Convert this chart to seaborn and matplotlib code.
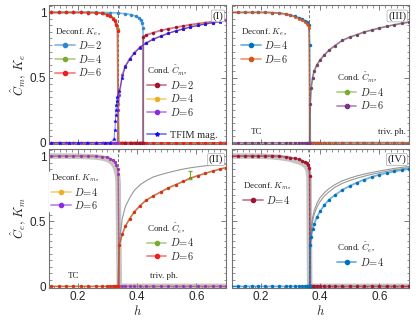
import numpy as np
import pandas as pd
import seaborn as sns
import matplotlib.pyplot as plt
from matplotlib.lines import Line2D
from matplotlib.colors import to_rgba
from matplotlib.ticker import MultipleLocator, FixedLocator, FixedFormatter

sns.set_theme(style="ticks", context="paper")
plt.rcParams["font.family"] = ["Liberation Sans", "DejaVu Sans"]
plt.rcParams["mathtext.fontset"] = "cm"

# ---- data: panels (I) and (II), transition near h = 0.336 ----
h_a = [0.11, 0.135, 0.16, 0.185, 0.21, 0.235, 0.26, 0.28, 0.3, 0.31, 0.32, 0.325,
       0.33, 0.334, 0.336, 0.34, 0.35, 0.36, 0.375, 0.39, 0.41, 0.43, 0.455, 0.48,
       0.505, 0.53, 0.555, 0.58, 0.605, 0.63, 0.655, 0.68, 0.7]
ke_I_d4 = [1, 1, 1, 1, 1, 0.999, 0.998, 0.995, 0.985, 0.975, 0.955, 0.94,
           0.91, 0.87, 0.3, 0, 0, 0, 0, 0, 0, 0, 0, 0, 0, 0, 0, 0, 0, 0, 0, 0, 0]
ke_I_d6 = [1, 1, 1, 1, 1, 0.999, 0.998, 0.994, 0.983, 0.972, 0.952, 0.935,
           0.9, 0.86, 0, 0, 0, 0, 0, 0, 0, 0, 0, 0, 0, 0, 0, 0, 0, 0, 0, 0, 0]
cm_I_d46 = [0, 0, 0, 0, 0, 0, 0, 0, 0, 0, 0, 0, 0, 0, 0.25, 0.37, 0.52, 0.59,
            0.645, 0.69, 0.735, 0.765, 0.795, 0.818, 0.84, 0.858, 0.873, 0.889,
            0.9, 0.912, 0.922, 0.932, 0.94]
km_II_d46 = [1, 1, 1, 1, 1, 0.999, 0.998, 0.995, 0.99, 0.98, 0.967, 0.955,
             0.93, 0.9, 0.86, 0, 0, 0, 0, 0, 0, 0, 0, 0, 0, 0, 0, 0, 0, 0, 0, 0, 0]
ce_II_d46 = [0, 0, 0, 0, 0, 0, 0, 0, 0, 0, 0, 0, 0, 0, 0, 0.32, 0.4, 0.46,
             0.52, 0.57, 0.62, 0.66, 0.695, 0.725, 0.755, 0.78, 0.805, 0.83,
             0.85, 0.867, 0.885, 0.9, 0.912]
ref_II_thin = [None] * 15 + [0.35, 0.52, 0.61, 0.68, 0.735, 0.78, 0.81, 0.84,
                             0.858, 0.873, 0.887, 0.9, 0.91, 0.918, 0.925, 0.93,
                             0.934, 0.937]
ref_II_thick = [1, 1, 1, 0.999, 0.998, 0.996, 0.993, 0.987, 0.975, 0.962, 0.94,
                0.925, 0.89, 0.85, 0.8, 0.0, 0, 0, 0, 0, 0, 0, 0, 0, 0, 0, 0, 0,
                0, 0, 0, 0, 0]
err_h = [0.58]
err_y = [0.855]
err_v = [0.032]

# D=2 in panel (I), transition near h = 0.42
h_d2 = [0.11, 0.135, 0.16, 0.185, 0.21, 0.235, 0.26, 0.285, 0.31, 0.335, 0.36,
        0.38, 0.395, 0.405, 0.412, 0.417, 0.42, 0.421, 0.43, 0.455, 0.48, 0.505,
        0.53, 0.555, 0.58, 0.605, 0.63, 0.655, 0.68, 0.7]
ke_I_d2 = [1, 1, 1, 1, 1, 1, 1, 0.999, 0.998, 0.996, 0.99, 0.983, 0.972, 0.96,
           0.945, 0.92, 0.88, 0, 0, 0, 0, 0, 0, 0, 0, 0, 0, 0, 0, 0]
cm_I_d2 = [0, 0, 0, 0, 0, 0, 0, 0, 0, 0, 0, 0, 0, 0, 0, 0, 0, 0.815, 0.826,
           0.845, 0.862, 0.874, 0.885, 0.896, 0.906, 0.914, 0.922, 0.93, 0.938,
           0.945]

h_tfim = [0.11, 0.14, 0.17, 0.2, 0.23, 0.26, 0.29, 0.31, 0.322, 0.325, 0.327,
          0.328, 0.329, 0.33, 0.331, 0.332, 0.34, 0.35, 0.36, 0.375, 0.39, 0.41,
          0.43, 0.455, 0.48, 0.505, 0.53, 0.555, 0.58, 0.605, 0.63, 0.655, 0.68]
tfim_mag = [0, 0, 0, 0, 0, 0, 0, 0, 0.03, 0.1, 0.17, 0.21, 0.25, 0.29, 0.32,
            0.35, 0.4, 0.5, 0.58, 0.64, 0.685, 0.73, 0.765, 0.795, 0.818, 0.84,
            0.857, 0.872, 0.888, 0.9, 0.911, 0.921, 0.93]

# ---- data: panels (III) and (IV), transition near h = 0.365 ----
h_b = [0.1, 0.123, 0.146, 0.169, 0.192, 0.215, 0.238, 0.261, 0.284, 0.3, 0.315,
       0.33, 0.34, 0.35, 0.355, 0.36, 0.363, 0.365, 0.367, 0.37, 0.375, 0.38,
       0.39, 0.4, 0.415, 0.43, 0.45, 0.475, 0.5, 0.525, 0.55, 0.575, 0.6, 0.625,
       0.65, 0.675, 0.7]
ke_III_d4 = [1, 1, 1, 1, 1, 1, 0.998, 0.995, 0.988, 0.98, 0.97, 0.958, 0.948,
             0.935, 0.928, 0.915, 0.9, 0.75, 0, 0, 0, 0, 0, 0, 0, 0, 0, 0, 0, 0,
             0, 0, 0, 0, 0, 0, 0]
ke_III_d6 = [1, 1, 1, 1, 1, 1, 0.998, 0.995, 0.987, 0.978, 0.966, 0.952, 0.94,
             0.925, 0.915, 0.9, 0.88, 0, 0, 0, 0, 0, 0, 0, 0, 0, 0, 0, 0, 0, 0,
             0, 0, 0, 0, 0, 0]
cm_III_d46 = [0, 0, 0, 0, 0, 0, 0, 0, 0, 0, 0, 0, 0, 0, 0, 0, 0, 0, 0.3, 0.42,
              0.5, 0.55, 0.6, 0.635, 0.675, 0.71, 0.745, 0.785, 0.81, 0.83, 0.85,
              0.865, 0.88, 0.893, 0.905, 0.916, 0.925]
km_IV_d4 = [1, 1, 1, 1, 1, 1, 1, 0.998, 0.994, 0.988, 0.982, 0.975, 0.965,
            0.952, 0.945, 0.93, 0.91, 0.85, 0, 0, 0, 0, 0, 0, 0, 0, 0, 0, 0, 0,
            0, 0, 0, 0, 0, 0, 0]
ce_IV_d4 = [0, 0, 0, 0, 0, 0, 0, 0, 0, 0, 0, 0, 0, 0, 0, 0, 0, 0, 0.32, 0.38,
            0.44, 0.48, 0.535, 0.575, 0.625, 0.665, 0.7, 0.74, 0.77, 0.797, 0.82,
            0.84, 0.857, 0.87, 0.882, 0.892, 0.9]
ref_IV_a = [None] * 18 + [0.35, 0.45, 0.53, 0.58, 0.64, 0.68, 0.72, 0.75, 0.78,
                          0.81, 0.83, 0.848, 0.862, 0.874, 0.885, 0.895, 0.905,
                          0.913, 0.92]
ref_IV_b = [None] * 18 + [0.33, 0.42, 0.5, 0.55, 0.61, 0.65, 0.695, 0.725, 0.76,
                          0.79, 0.812, 0.83, 0.846, 0.86, 0.872, 0.883, 0.893,
                          0.902, 0.91]
ref_IV_thick = [1, 1, 1, 1, 0.999, 0.998, 0.995, 0.99, 0.982, 0.975, 0.965, 0.955,
                0.945, 0.93, 0.915, 0.89, 0.84, 0, 0, 0, 0, 0, 0, 0, 0, 0, 0, 0,
                0, 0, 0, 0, 0, 0, 0, 0, 0]

h_crit_a = 0.334
h_crit_b = 0.364

# colours
c_blue = "#0072BD"
c_lblue = "#2E86D0"
c_orange = "#D95319"
c_yellow = "#EDB120"
c_purple = "#7E2F8E"
c_violet = "#8A2BE2"
c_green = "#77AC30"
c_red = "#F01E1E"
c_dred = "#A2142F"
c_tfim = "#1010F0"

serif = ["Liberation Serif", "DejaVu Serif"]

fig, axes = plt.subplots(2, 2, figsize=(4.16, 3.25), dpi=100)
fig.subplots_adjust(left=0.118, right=0.983, top=0.985, bottom=0.114,
                    wspace=0.034, hspace=0.03)
ax1, ax3 = axes[0]
ax2, ax4 = axes[1]


def series(ax, h, y, color, marker="o", ms=2.2, lw=1.3, z=3):
    df = pd.DataFrame({"h": h, "y": y}).dropna()
    sns.lineplot(data=df, x="h", y="y", ax=ax, sort=False, color=to_rgba(color, 0.55),
                 linewidth=lw, marker=marker, markersize=ms, markerfacecolor=color,
                 markeredgecolor=color, markeredgewidth=0.3, zorder=z)


def gray(ax, h, y, lw, alpha):
    df = pd.DataFrame({"h": h, "y": y}).dropna()
    sns.lineplot(data=df, x="h", y="y", ax=ax, sort=False, color="0.55",
                 alpha=alpha, linewidth=lw, zorder=2)


def handle(color, marker="o"):
    return Line2D([], [], color=to_rgba(color, 0.55), lw=1.3, marker=marker,
                  markersize=3, markerfacecolor=color, markeredgecolor=color)


def add_legend(ax, handles, labels, title, anchor):
    leg = ax.legend(handles, labels, title=title, loc="upper left",
                    bbox_to_anchor=anchor, frameon=True, framealpha=1,
                    edgecolor="none", facecolor="white", fontsize=7.5,
                    title_fontsize=6.5, alignment="left", handlelength=1.9,
                    handletextpad=0.3, labelspacing=0.15, borderpad=0.2,
                    borderaxespad=0.0)
    leg.get_title().set_family(serif)
    for t in leg.get_texts():
        t.set_family(serif)
    leg.set_zorder(5)
    ax.add_artist(leg)
    return leg


# panel (I)
series(ax1, h_d2, ke_I_d2, c_lblue)
series(ax1, h_a, ke_I_d4, c_green)
series(ax1, h_a, ke_I_d6, c_red)
series(ax1, h_d2, cm_I_d2, c_dred)
series(ax1, h_a, cm_I_d46, c_yellow)
series(ax1, h_a, cm_I_d46, c_violet, ms=1.8, lw=1.0)
series(ax1, h_tfim, tfim_mag, c_tfim, marker="*", ms=2.6, lw=0.7, z=4)
add_legend(ax1, [handle(c_lblue), handle(c_green), handle(c_red)],
           ["$D\\!=\\!2$", "$D\\!=\\!4$", "$D\\!=\\!6$"],
           "Deconf. $K_e$,", (0.02, 0.86))
add_legend(ax1, [handle(c_dred), handle(c_yellow), handle(c_violet),
                 Line2D([], [], lw=0), handle(c_tfim, "*")],
           ["$D\\!=\\!2$", "$D\\!=\\!4$", "$D\\!=\\!6$", "", "TFIM mag."],
           "Cond. $\\hat{C}_m$,", (0.54, 0.6))

# panel (III)
series(ax3, h_b, ke_III_d4, c_blue)
series(ax3, h_b, ke_III_d6, c_orange, ms=1.8)
series(ax3, h_b, cm_III_d46, c_green)
series(ax3, h_b, cm_III_d46, c_purple, ms=1.8, lw=1.0)
add_legend(ax3, [handle(c_blue), handle(c_orange)],
           ["$D\\!=\\!4$", "$D\\!=\\!6$"], "Deconf. $K_e$,", (0.04, 0.86))
add_legend(ax3, [handle(c_green), handle(c_purple)],
           ["$D\\!=\\!4$", "$D\\!=\\!6$"], "Cond. $\\hat{C}_m$,", (0.58, 0.55))

# panel (II)
gray(ax2, h_a, ref_II_thick, 4, 0.5)
gray(ax2, h_a, ref_II_thin, 0.8, 0.9)
series(ax2, h_a, km_II_d46, c_yellow)
series(ax2, h_a, km_II_d46, c_violet, ms=1.8, lw=1.0)
series(ax2, h_a, ce_II_d46, c_green)
series(ax2, h_a, ce_II_d46, c_red, ms=1.8, lw=1.0)
ax2.errorbar(err_h, err_y, yerr=err_v, fmt="none", ecolor=c_green, elinewidth=0.8,
             capsize=1.5, zorder=4)
add_legend(ax2, [handle(c_yellow), handle(c_violet)],
           ["$D\\!=\\!4$", "$D\\!=\\!6$"], "Deconf. $K_m$,", (0.0, 0.84))
add_legend(ax2, [handle(c_green), handle(c_red)],
           ["$D\\!=\\!4$", "$D\\!=\\!6$"], "Cond. $\\hat{C}_e$,", (0.54, 0.5))

# panel (IV)
gray(ax4, h_b, ref_IV_thick, 4, 0.5)
gray(ax4, h_b, ref_IV_a, 0.8, 0.9)
gray(ax4, h_b, ref_IV_b, 0.8, 0.9)
series(ax4, h_b, km_IV_d4, c_dred)
series(ax4, h_b, ce_IV_d4, c_blue)
add_legend(ax4, [handle(c_dred)], ["$D\\!=\\!4$"], "Deconf. $K_m$,", (0.05, 0.78))
add_legend(ax4, [handle(c_blue)], ["$D\\!=\\!4$"], "Cond. $\\hat{C}_e$,", (0.58, 0.36))

for ax in (ax2, ax3):
    ax.text(0.185, 0.08, "TC", fontsize=6.5, family=serif, ha="center",
            va="center", zorder=6)
ax3.text(0.69, 0.08, "triv. ph.", fontsize=6.5, family=serif, ha="right",
         va="center", zorder=6)
ax2.text(0.49, 0.08, "triv. ph.", fontsize=6.5, family=serif, ha="center",
         va="center", zorder=6)

for ax, lab, hc in ((ax1, "(I)", h_crit_a), (ax2, "(II)", h_crit_a),
                    (ax3, "(III)", h_crit_b), (ax4, "(IV)", h_crit_b)):
    ax.axvline(hc, color="0.45", ls=(0, (3, 2)), lw=0.7, zorder=1)
    ax.text(0.985, 0.955, lab, transform=ax.transAxes, ha="right", va="top",
            fontsize=8, family=serif, zorder=7,
            bbox=dict(boxstyle="round,pad=0.1", fc="white", ec="0.6", lw=0.4))
    ax.set_xlim(0.103, 0.7)
    ax.set_ylim(-0.012, 1.058)
    ax.set_xlabel("")
    ax.set_ylabel("")
    ax.xaxis.set_major_locator(FixedLocator([0.2, 0.4, 0.6]))
    ax.xaxis.set_major_formatter(FixedFormatter(["0.2", "0.4", "0.6"]))
    ax.xaxis.set_minor_locator(MultipleLocator(0.02))
    ax.yaxis.set_major_locator(FixedLocator([0, 0.5, 1]))
    ax.yaxis.set_major_formatter(FixedFormatter(["0", "0.5", "1"]))
    ax.yaxis.set_minor_locator(MultipleLocator(0.05))
    ax.tick_params(which="both", direction="in", top=True, right=True,
                   labelsize=8.5, color="0.4", pad=2)
    ax.tick_params(which="major", length=3.5, width=0.6)
    ax.tick_params(which="minor", length=1.8, width=0.5)
    for s in ax.spines.values():
        s.set_color("0.45")
        s.set_linewidth(0.8)

for ax in (ax1, ax3):
    ax.tick_params(labelbottom=False)
for ax in (ax3, ax4):
    ax.tick_params(labelleft=False)

ax1.set_ylabel("$\\hat{C}_m,\\, K_e$", fontsize=9, labelpad=1)
ax2.set_ylabel("$\\hat{C}_e,\\, K_m$", fontsize=9, labelpad=1)
ax2.set_xlabel("$h$", fontsize=9, labelpad=1)
ax4.set_xlabel("$h$", fontsize=9, labelpad=1)

fig.savefig("out.png", dpi=100)
